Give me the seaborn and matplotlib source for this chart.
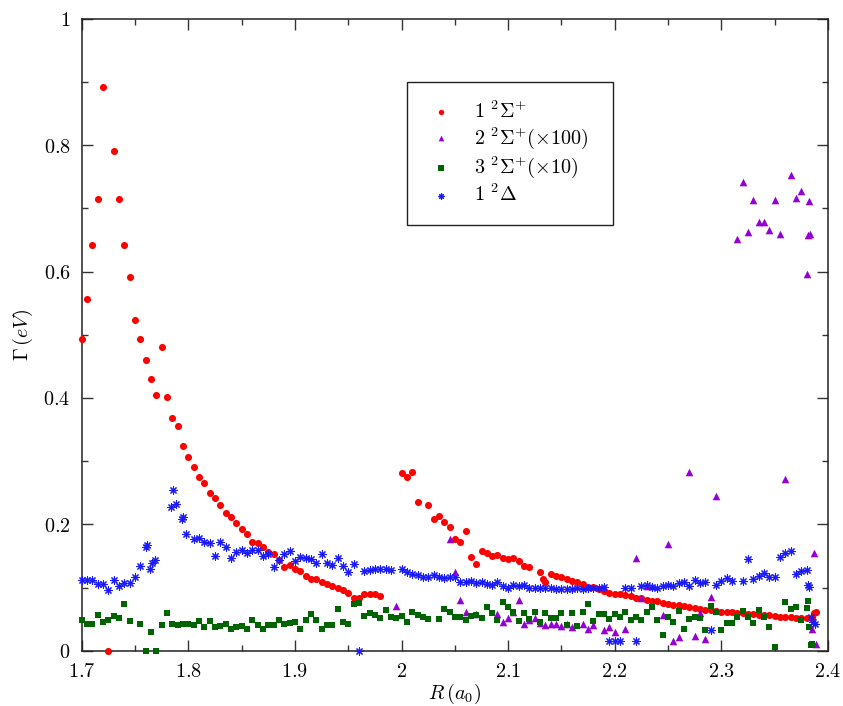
import matplotlib
matplotlib.use("Agg")
import matplotlib.pyplot as plt
from matplotlib.ticker import MultipleLocator, FuncFormatter
from matplotlib.patches import Rectangle
import seaborn as sns

# ---------------- data ----------------
red_x = [1.700, 1.705, 1.710, 1.715, 1.720, 1.725, 1.730, 1.735, 1.740, 1.745,
         1.750, 1.755, 1.760, 1.765, 1.770, 1.775, 1.780, 1.785, 1.790, 1.795,
         1.800, 1.805, 1.810, 1.815, 1.820, 1.825, 1.830, 1.835, 1.840, 1.845,
         1.850, 1.855, 1.860, 1.865, 1.870, 1.875, 1.880, 1.885, 1.890, 1.895,
         1.900, 1.905, 1.910, 1.915, 1.920, 1.925, 1.930, 1.935, 1.940, 1.945,
         1.950, 1.955, 1.960, 1.965, 1.970, 1.975, 1.980,
         2.000, 2.005, 2.010, 2.015, 2.025, 2.030, 2.035, 2.040, 2.045, 2.050,
         2.055, 2.060, 2.065, 2.070, 2.075, 2.080, 2.085, 2.090, 2.095, 2.100,
         2.105, 2.110, 2.115, 2.120, 2.130, 2.1325, 2.135, 2.140, 2.145, 2.150,
         2.155, 2.160, 2.165, 2.170, 2.175, 2.180, 2.185, 2.190, 2.195, 2.200,
         2.205, 2.210, 2.215, 2.220, 2.225, 2.230, 2.235, 2.240, 2.245, 2.250,
         2.255, 2.260, 2.265, 2.270, 2.275, 2.280, 2.285, 2.290, 2.295, 2.300,
         2.305, 2.310, 2.315, 2.320, 2.325, 2.330, 2.335, 2.340, 2.345, 2.350,
         2.355, 2.360, 2.365, 2.370, 2.375, 2.380, 2.385, 2.387, 2.389]
red_y = [0.493, 0.557, 0.642, 0.715, 0.892, 0.000, 0.791, 0.715, 0.642, 0.591,
         0.523, 0.493, 0.460, 0.430, 0.405, 0.481, 0.401, 0.368, 0.356, 0.324,
         0.306, 0.291, 0.275, 0.265, 0.250, 0.242, 0.231, 0.218, 0.212, 0.202,
         0.193, 0.185, 0.172, 0.170, 0.164, 0.156, 0.153, 0.144, 0.133, 0.136,
         0.130, 0.126, 0.118, 0.113, 0.113, 0.109, 0.106, 0.102, 0.099, 0.096,
         0.091, 0.083, 0.083, 0.090, 0.090, 0.090, 0.087,
         0.281, 0.275, 0.282, 0.236, 0.231, 0.209, 0.213, 0.203, 0.195, 0.177,
         0.172, 0.190, 0.148, 0.137, 0.157, 0.154, 0.150, 0.151, 0.146, 0.145,
         0.146, 0.142, 0.134, 0.133, 0.125, 0.113, 0.109, 0.121, 0.118, 0.116,
         0.113, 0.110, 0.108, 0.106, 0.101, 0.101, 0.097, 0.094, 0.092, 0.089,
         0.089, 0.088, 0.086, 0.084, 0.083, 0.081, 0.079, 0.078, 0.076, 0.074,
         0.073, 0.072, 0.071, 0.069, 0.068, 0.066, 0.065, 0.064, 0.063, 0.062,
         0.061, 0.061, 0.060, 0.059, 0.058, 0.058, 0.057, 0.056, 0.056, 0.055,
         0.054, 0.054, 0.053, 0.052, 0.052, 0.051, 0.050, 0.059, 0.062]

purple_x = [1.995, 2.045, 2.050, 2.055, 2.060, 2.070, 2.090, 2.095, 2.100, 2.105,
            2.110, 2.115, 2.120, 2.125, 2.130, 2.135, 2.140, 2.145, 2.150, 2.155,
            2.160, 2.170, 2.175, 2.180, 2.190, 2.195, 2.200, 2.210, 2.220, 2.225,
            2.230, 2.235, 2.245, 2.250, 2.255, 2.260, 2.270, 2.275, 2.280, 2.285,
            2.290, 2.295, 2.315, 2.320, 2.325, 2.330, 2.335, 2.340, 2.345, 2.350,
            2.355, 2.360, 2.365, 2.370, 2.375, 2.380, 2.381, 2.382, 2.383, 2.385,
            2.387, 2.389]
purple_y = [0.071, 0.176, 0.125, 0.081, 0.062, 0.058, 0.058, 0.046, 0.051, 0.061,
            0.080, 0.042, 0.049, 0.052, 0.044, 0.040, 0.043, 0.043, 0.039, 0.042,
            0.037, 0.043, 0.035, 0.040, 0.032, 0.037, 0.030, 0.034, 0.147, 0.084,
            0.103, 0.103, 0.057, 0.169, 0.016, 0.022, 0.283, 0.023, 0.060, 0.018,
            0.085, 0.245, 0.651, 0.741, 0.662, 0.713, 0.678, 0.678, 0.666, 0.713,
            0.660, 0.272, 0.753, 0.716, 0.728, 0.596, 0.657, 0.712, 0.660, 0.035,
            0.154, 0.011]

green_x = [1.700, 1.705, 1.710, 1.715, 1.720, 1.725, 1.730, 1.735, 1.740, 1.745,
           1.755, 1.760, 1.765, 1.770, 1.775, 1.780, 1.785, 1.790, 1.795, 1.800,
           1.805, 1.810, 1.815, 1.820, 1.825, 1.830, 1.835, 1.840, 1.845, 1.850,
           1.855, 1.860, 1.865, 1.870, 1.875, 1.880, 1.885, 1.890, 1.895, 1.900,
           1.905, 1.910, 1.915, 1.920, 1.925, 1.930, 1.935, 1.940, 1.945, 1.950,
           1.955, 1.960, 1.965, 1.970, 1.975, 1.980, 1.985, 1.990, 1.995, 2.000,
           2.005, 2.010, 2.015, 2.020, 2.025, 2.035, 2.040, 2.045, 2.050, 2.055,
           2.060, 2.065, 2.070, 2.075, 2.080, 2.085, 2.090, 2.095, 2.100, 2.105,
           2.110, 2.115, 2.120, 2.125, 2.130, 2.135, 2.140, 2.145, 2.150, 2.155,
           2.160, 2.165, 2.170, 2.175, 2.180, 2.185, 2.190, 2.195, 2.200, 2.205,
           2.210, 2.215, 2.220, 2.225, 2.230, 2.235, 2.240, 2.245, 2.250, 2.255,
           2.260, 2.265, 2.270, 2.275, 2.280, 2.285, 2.290, 2.295, 2.300, 2.305,
           2.310, 2.315, 2.320, 2.325, 2.330, 2.335, 2.340, 2.345, 2.350, 2.360,
           2.365, 2.370, 2.375, 2.380, 2.381, 2.382, 2.384, 2.385]
green_y = [0.049, 0.042, 0.042, 0.057, 0.046, 0.049, 0.055, 0.051, 0.074, 0.047,
           0.043, 0.000, 0.029, 0.000, 0.041, 0.059, 0.042, 0.040, 0.043, 0.043,
           0.041, 0.047, 0.038, 0.047, 0.037, 0.039, 0.042, 0.035, 0.038, 0.039,
           0.035, 0.049, 0.040, 0.034, 0.040, 0.040, 0.049, 0.043, 0.044, 0.045,
           0.034, 0.049, 0.058, 0.049, 0.035, 0.040, 0.040, 0.066, 0.045, 0.043,
           0.074, 0.075, 0.055, 0.059, 0.056, 0.052, 0.064, 0.053, 0.052, 0.055,
           0.045, 0.061, 0.056, 0.054, 0.050, 0.050, 0.066, 0.062, 0.054, 0.053,
           0.049, 0.055, 0.056, 0.052, 0.069, 0.060, 0.049, 0.077, 0.069, 0.061,
           0.047, 0.060, 0.050, 0.062, 0.045, 0.060, 0.051, 0.051, 0.060, 0.040,
           0.060, 0.039, 0.062, 0.074, 0.047, 0.058, 0.058, 0.050, 0.058, 0.053,
           0.061, 0.048, 0.054, 0.049, 0.061, 0.069, 0.049, 0.025, 0.053, 0.045,
           0.063, 0.035, 0.050, 0.053, 0.051, 0.032, 0.071, 0.062, 0.032, 0.044,
           0.044, 0.053, 0.063, 0.054, 0.044, 0.065, 0.054, 0.037, 0.006, 0.077,
           0.066, 0.069, 0.049, 0.068, 0.079, 0.038, 0.009, 0.011]

blue_x = [1.700, 1.705, 1.710, 1.715, 1.720, 1.725, 1.730, 1.735, 1.740, 1.745,
          1.750, 1.755, 1.760, 1.7615, 1.764, 1.766, 1.7685, 1.784, 1.786, 1.788,
          1.794, 1.795, 1.798, 1.805, 1.810, 1.815, 1.820, 1.825, 1.830, 1.835,
          1.840, 1.845, 1.850, 1.855, 1.860, 1.865, 1.870, 1.875, 1.880, 1.885,
          1.890, 1.895, 1.900, 1.905, 1.910, 1.915, 1.920, 1.925, 1.930, 1.935,
          1.940, 1.945, 1.950, 1.955, 1.960, 1.965, 1.970, 1.975, 1.980, 1.985,
          1.990, 2.000, 2.005, 2.010, 2.015, 2.020, 2.025, 2.030, 2.035, 2.040,
          2.045, 2.050, 2.055, 2.060, 2.065, 2.070, 2.075, 2.080, 2.085, 2.090,
          2.095, 2.100, 2.105, 2.110, 2.115, 2.120, 2.125, 2.130, 2.135, 2.140,
          2.145, 2.150, 2.155, 2.160, 2.165, 2.170, 2.175, 2.180, 2.185, 2.190,
          2.195, 2.200, 2.205, 2.210, 2.215, 2.220, 2.225, 2.230, 2.235, 2.240,
          2.245, 2.250, 2.255, 2.260, 2.265, 2.270, 2.275, 2.280, 2.285, 2.290,
          2.295, 2.300, 2.305, 2.310, 2.320, 2.325, 2.330, 2.335, 2.340, 2.345,
          2.350, 2.355, 2.360, 2.365, 2.370, 2.375, 2.380, 2.381, 2.382, 2.384,
          2.386, 2.388]
blue_y = [0.112, 0.112, 0.112, 0.105, 0.105, 0.096, 0.112, 0.103, 0.107, 0.107,
          0.116, 0.134, 0.164, 0.167, 0.130, 0.139, 0.144, 0.228, 0.254, 0.232,
          0.208, 0.212, 0.184, 0.176, 0.178, 0.172, 0.171, 0.150, 0.172, 0.164,
          0.147, 0.156, 0.159, 0.154, 0.159, 0.159, 0.150, 0.153, 0.132, 0.144,
          0.153, 0.157, 0.142, 0.148, 0.147, 0.145, 0.138, 0.153, 0.139, 0.135,
          0.146, 0.134, 0.125, 0.137, 0.000, 0.126, 0.128, 0.130, 0.130, 0.129,
          0.127, 0.129, 0.125, 0.121, 0.119, 0.116, 0.116, 0.120, 0.116, 0.115,
          0.117, 0.117, 0.109, 0.109, 0.111, 0.107, 0.108, 0.106, 0.104, 0.109,
          0.102, 0.100, 0.104, 0.102, 0.104, 0.100, 0.100, 0.099, 0.100, 0.100,
          0.098, 0.097, 0.098, 0.097, 0.099, 0.098, 0.100, 0.100, 0.100, 0.101,
          0.015, 0.015, 0.015, 0.100, 0.100, 0.015, 0.102, 0.104, 0.101, 0.099,
          0.102, 0.104, 0.103, 0.107, 0.108, 0.102, 0.112, 0.107, 0.108, 0.032,
          0.104, 0.110, 0.115, 0.110, 0.110, 0.145, 0.113, 0.118, 0.123, 0.116,
          0.116, 0.149, 0.154, 0.157, 0.122, 0.126, 0.128, 0.104, 0.101, 0.054,
          0.046, 0.043]

labels = [r'$1\ ^{2}\Sigma^{+}$', r'$2\ ^{2}\Sigma^{+}(\times100)$',
          r'$3\ ^{2}\Sigma^{+}(\times10)$', r'$1\ ^{2}\Delta$']
x_ticks = [1.7, 1.8, 1.9, 2.0, 2.1, 2.2, 2.3, 2.4]
y_ticks = [0, 0.2, 0.4, 0.6, 0.8, 1.0]

# ---------------- style ----------------
plt.rcParams['mathtext.fontset'] = 'cm'
plt.rcParams['font.family'] = ['DejaVu Serif']
plt.rcParams['font.size'] = 14.5

W, H = 843, 706
fig = plt.figure(figsize=(W / 100, H / 100), dpi=100)
ax = fig.add_axes([81.7 / W, (H - 650.7) / H, (828 - 81.7) / W, (650.7 - 18.7) / H])

sns.scatterplot(x=red_x, y=red_y, ax=ax, color='#ff0000', marker='o', s=26,
                linewidth=0, label=labels[0], zorder=3, clip_on=False)
sns.scatterplot(x=purple_x, y=purple_y, ax=ax, color='#9400d3', marker='^', s=30,
                linewidth=0, label=labels[1], zorder=3, clip_on=False)
sns.scatterplot(x=green_x, y=green_y, ax=ax, color='#006400', marker='s', s=24,
                linewidth=0, label=labels[2], zorder=3, clip_on=False)
sns.scatterplot(x=blue_x, y=blue_y, ax=ax, color='#1a1aff', marker=(8, 2, 0), s=28,
                linewidth=0.8, label=labels[3], zorder=4, clip_on=False)

ax.set_xlim(1.7, 2.4)
ax.set_ylim(0, 1)
ax.set_xticks(x_ticks)
ax.set_yticks(y_ticks)
ax.xaxis.set_minor_locator(MultipleLocator(0.05))
ax.yaxis.set_minor_locator(MultipleLocator(0.1))
fmt = FuncFormatter(lambda v, p: r'$%g$' % round(v, 3))
ax.xaxis.set_major_formatter(fmt)
ax.yaxis.set_major_formatter(fmt)
ax.tick_params(which='both', direction='in', top=True, right=True,
               color='#333333', width=1.0, labelsize=14.5)
ax.tick_params(which='major', length=8, pad=8)
ax.tick_params(which='minor', length=4)
for sp in ax.spines.values():
    sp.set_linewidth(1.1)
    sp.set_color('#222222')

ax.set_xlabel(r'$R\,(a_0)$', fontsize=14.5, labelpad=1)
ax.set_ylabel(r'$\Gamma\,(eV)$', fontsize=14.5, labelpad=6)

# legend box
fig.patches.append(Rectangle((407.3 / W, (H - 225) / H), 206 / W, 142.7 / H,
                             transform=fig.transFigure, fill=False,
                             edgecolor='#222222', linewidth=1.0, zorder=5))
leg = ax.legend(loc='upper left', bbox_to_anchor=(430.7 / W, (H - 100) / H),
                bbox_transform=fig.transFigure, frameon=False, borderpad=0,
                borderaxespad=0, handlelength=1.0, handletextpad=1.15,
                labelspacing=0.18, fontsize=14.5, markerscale=0.75)

fig.savefig('out.png', dpi=100)
